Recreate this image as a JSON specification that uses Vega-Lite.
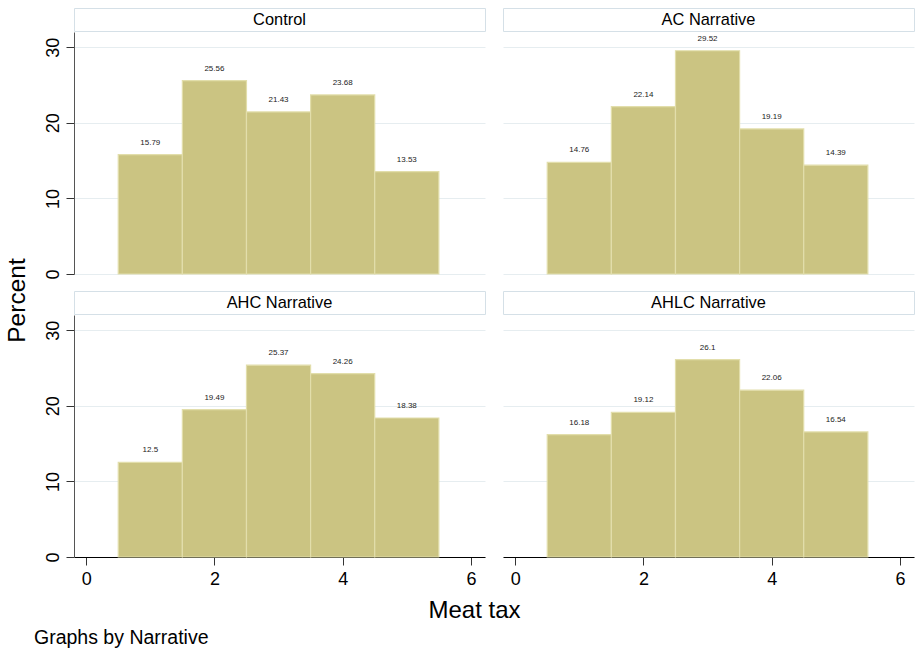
{
  "$schema": "https://vega.github.io/schema/vega-lite/v6.json",
  "background": "white",
  "padding": {"left": 4, "top": 7, "right": 2, "bottom": 2},
  "datasets": {
    "hist": [
      {"Narrative": "Control", "tax": 1, "lo": 0.5, "hi": 1.5, "pct": 15.79},
      {"Narrative": "Control", "tax": 2, "lo": 1.5, "hi": 2.5, "pct": 25.56},
      {"Narrative": "Control", "tax": 3, "lo": 2.5, "hi": 3.5, "pct": 21.43},
      {"Narrative": "Control", "tax": 4, "lo": 3.5, "hi": 4.5, "pct": 23.68},
      {"Narrative": "Control", "tax": 5, "lo": 4.5, "hi": 5.5, "pct": 13.53},
      {"Narrative": "AC Narrative", "tax": 1, "lo": 0.5, "hi": 1.5, "pct": 14.76},
      {"Narrative": "AC Narrative", "tax": 2, "lo": 1.5, "hi": 2.5, "pct": 22.14},
      {"Narrative": "AC Narrative", "tax": 3, "lo": 2.5, "hi": 3.5, "pct": 29.52},
      {"Narrative": "AC Narrative", "tax": 4, "lo": 3.5, "hi": 4.5, "pct": 19.19},
      {"Narrative": "AC Narrative", "tax": 5, "lo": 4.5, "hi": 5.5, "pct": 14.39},
      {"Narrative": "AHC Narrative", "tax": 1, "lo": 0.5, "hi": 1.5, "pct": 12.5},
      {"Narrative": "AHC Narrative", "tax": 2, "lo": 1.5, "hi": 2.5, "pct": 19.49},
      {"Narrative": "AHC Narrative", "tax": 3, "lo": 2.5, "hi": 3.5, "pct": 25.37},
      {"Narrative": "AHC Narrative", "tax": 4, "lo": 3.5, "hi": 4.5, "pct": 24.26},
      {"Narrative": "AHC Narrative", "tax": 5, "lo": 4.5, "hi": 5.5, "pct": 18.38},
      {"Narrative": "AHLC Narrative", "tax": 1, "lo": 0.5, "hi": 1.5, "pct": 16.18},
      {"Narrative": "AHLC Narrative", "tax": 2, "lo": 1.5, "hi": 2.5, "pct": 19.12},
      {"Narrative": "AHLC Narrative", "tax": 3, "lo": 2.5, "hi": 3.5, "pct": 26.1},
      {"Narrative": "AHLC Narrative", "tax": 4, "lo": 3.5, "hi": 4.5, "pct": 22.06},
      {"Narrative": "AHLC Narrative", "tax": 5, "lo": 4.5, "hi": 5.5, "pct": 16.54}
    ],
    "panels": [
      {"Narrative": "Control"},
      {"Narrative": "AC Narrative"},
      {"Narrative": "AHC Narrative"},
      {"Narrative": "AHLC Narrative"}
    ]
  },
  "title": {
    "text": "Graphs by Narrative",
    "orient": "bottom",
    "anchor": "start",
    "fontSize": 19.5,
    "fontWeight": "normal",
    "color": "#000",
    "dx": 30,
    "offset": 7
  },
  "spacing": 15,
  "hconcat": [
    {
      "data": {"name": "hist"},
      "width": 1, "height": 584,
      "mark": {"type": "tick", "opacity": 0},
      "encoding": {
        "y": {"field": "pct", "type": "quantitative", "scale": {"domain": [0, 32], "nice": false},
          "axis": {"labels": false, "ticks": false, "domain": false, "grid": false, "title": "Percent", "titleFontSize": 24.5, "titleAngle": -90, "titleAlign": "center", "titleBaseline": "alphabetic", "titlePadding": 3}}
      }
    },
    {
      "spacing": 10,
      "vconcat": [
        {
          "spacing": 16,
          "hconcat": [
            {
              "spacing": 0,
              "vconcat": [
                {
                  "data": {"name": "panels"},
                  "transform": [{"filter": "datum.Narrative === 'Control'"}],
                  "width": 411, "height": 23,
                  "view": {"stroke": "#d5e0e7", "strokeWidth": 1},
                  "mark": {"type": "text", "fontSize": 16.4, "color": "#000"},
                  "encoding": {"text": {"field": "Narrative", "type": "nominal"}}
                },
                {
                  "data": {"name": "hist"},
                  "transform": [{"filter": "datum.Narrative === 'Control'"}],
                  "width": 411, "height": 242,
                  "layer": [
                    {
                      "mark": {"type": "bar", "orient": "vertical", "fill": "#cbc482", "stroke": "#e2deab", "strokeWidth": 1.2},
                      "encoding": {
                        "x": {"field": "lo", "type": "quantitative", "scale": {"domain": [-0.19, 6.22], "nice": false, "zero": false, "padding": 0}, "axis": null},
                        "x2": {"field": "hi"},
                        "y": {"field": "pct", "type": "quantitative", "scale": {"domain": [0, 32], "nice": false, "padding": 0},
                          "axis": {"values": [0, 10, 20, 30], "grid": true, "gridColor": "#e6edf0", "domain": true, "domainColor": "#555", "ticks": true, "tickSize": 8, "tickColor": "#333", "labelAngle": -90, "labelFontSize": 18, "labelPadding": 4, "title": null}},
                        "y2": {"datum": 0}
                      }
                    },
                    {
                      "mark": {"type": "text", "fontSize": 8, "baseline": "bottom", "dy": -8, "color": "#222"},
                      "encoding": {
                        "x": {"field": "tax", "type": "quantitative"},
                        "y": {"field": "pct", "type": "quantitative"},
                        "text": {"field": "pct", "type": "nominal"}
                      }
                    }
                  ]
                }
              ]
            },
            {
              "spacing": 0,
              "vconcat": [
                {
                  "data": {"name": "panels"},
                  "transform": [{"filter": "datum.Narrative === 'AC Narrative'"}],
                  "width": 411, "height": 23,
                  "view": {"stroke": "#d5e0e7", "strokeWidth": 1},
                  "mark": {"type": "text", "fontSize": 16.4, "color": "#000"},
                  "encoding": {"text": {"field": "Narrative", "type": "nominal"}}
                },
                {
                  "data": {"name": "hist"},
                  "transform": [{"filter": "datum.Narrative === 'AC Narrative'"}],
                  "width": 411, "height": 242,
                  "layer": [
                    {
                      "mark": {"type": "bar", "orient": "vertical", "fill": "#cbc482", "stroke": "#e2deab", "strokeWidth": 1.2},
                      "encoding": {
                        "x": {"field": "lo", "type": "quantitative", "scale": {"domain": [-0.19, 6.22], "nice": false, "zero": false, "padding": 0}, "axis": null},
                        "x2": {"field": "hi"},
                        "y": {"field": "pct", "type": "quantitative", "scale": {"domain": [0, 32], "nice": false, "padding": 0},
                          "axis": {"values": [0, 10, 20, 30], "grid": true, "gridColor": "#e6edf0", "domain": false, "ticks": false, "labels": false, "title": null}},
                        "y2": {"datum": 0}
                      }
                    },
                    {
                      "mark": {"type": "text", "fontSize": 8, "baseline": "bottom", "dy": -8, "color": "#222"},
                      "encoding": {
                        "x": {"field": "tax", "type": "quantitative"},
                        "y": {"field": "pct", "type": "quantitative"},
                        "text": {"field": "pct", "type": "nominal"}
                      }
                    }
                  ]
                }
              ]
            }
          ]
        },
        {
          "spacing": 16,
          "hconcat": [
            {
              "spacing": 0,
              "vconcat": [
                {
                  "data": {"name": "panels"},
                  "transform": [{"filter": "datum.Narrative === 'AHC Narrative'"}],
                  "width": 411, "height": 23,
                  "view": {"stroke": "#d5e0e7", "strokeWidth": 1},
                  "mark": {"type": "text", "fontSize": 16.4, "color": "#000"},
                  "encoding": {"text": {"field": "Narrative", "type": "nominal"}}
                },
                {
                  "data": {"name": "hist"},
                  "transform": [{"filter": "datum.Narrative === 'AHC Narrative'"}],
                  "width": 411, "height": 242,
                  "layer": [
                    {
                      "mark": {"type": "bar", "orient": "vertical", "fill": "#cbc482", "stroke": "#e2deab", "strokeWidth": 1.2},
                      "encoding": {
                        "x": {"field": "lo", "type": "quantitative", "scale": {"domain": [-0.19, 6.22], "nice": false, "zero": false, "padding": 0},
                          "axis": {"values": [0, 2, 4, 6], "format": "d", "grid": false, "domain": true, "domainColor": "#000", "ticks": true, "tickSize": 8, "tickColor": "#333", "labelFontSize": 18, "labelPadding": 5, "title": null}},
                        "x2": {"field": "hi"},
                        "y": {"field": "pct", "type": "quantitative", "scale": {"domain": [0, 32], "nice": false, "padding": 0},
                          "axis": {"values": [0, 10, 20, 30], "grid": true, "gridColor": "#e6edf0", "domain": true, "domainColor": "#555", "ticks": true, "tickSize": 8, "tickColor": "#333", "labelAngle": -90, "labelFontSize": 18, "labelPadding": 4, "title": null}},
                        "y2": {"datum": 0}
                      }
                    },
                    {
                      "mark": {"type": "text", "fontSize": 8, "baseline": "bottom", "dy": -8, "color": "#222"},
                      "encoding": {
                        "x": {"field": "tax", "type": "quantitative"},
                        "y": {"field": "pct", "type": "quantitative"},
                        "text": {"field": "pct", "type": "nominal"}
                      }
                    }
                  ]
                }
              ]
            },
            {
              "spacing": 0,
              "vconcat": [
                {
                  "data": {"name": "panels"},
                  "transform": [{"filter": "datum.Narrative === 'AHLC Narrative'"}],
                  "width": 411, "height": 23,
                  "view": {"stroke": "#d5e0e7", "strokeWidth": 1},
                  "mark": {"type": "text", "fontSize": 16.4, "color": "#000"},
                  "encoding": {"text": {"field": "Narrative", "type": "nominal"}}
                },
                {
                  "data": {"name": "hist"},
                  "transform": [{"filter": "datum.Narrative === 'AHLC Narrative'"}],
                  "width": 411, "height": 242,
                  "layer": [
                    {
                      "mark": {"type": "bar", "orient": "vertical", "fill": "#cbc482", "stroke": "#e2deab", "strokeWidth": 1.2},
                      "encoding": {
                        "x": {"field": "lo", "type": "quantitative", "scale": {"domain": [-0.19, 6.22], "nice": false, "zero": false, "padding": 0},
                          "axis": {"values": [0, 2, 4, 6], "format": "d", "grid": false, "domain": true, "domainColor": "#000", "ticks": true, "tickSize": 8, "tickColor": "#333", "labelFontSize": 18, "labelPadding": 5, "title": null}},
                        "x2": {"field": "hi"},
                        "y": {"field": "pct", "type": "quantitative", "scale": {"domain": [0, 32], "nice": false, "padding": 0},
                          "axis": {"values": [0, 10, 20, 30], "grid": true, "gridColor": "#e6edf0", "domain": false, "ticks": false, "labels": false, "title": null}},
                        "y2": {"datum": 0}
                      }
                    },
                    {
                      "mark": {"type": "text", "fontSize": 8, "baseline": "bottom", "dy": -8, "color": "#222"},
                      "encoding": {
                        "x": {"field": "tax", "type": "quantitative"},
                        "y": {"field": "pct", "type": "quantitative"},
                        "text": {"field": "pct", "type": "nominal"}
                      }
                    }
                  ]
                }
              ]
            }
          ]
        },
        {
          "data": {"name": "hist"},
          "width": 800, "height": 1,
          "mark": {"type": "tick", "opacity": 0},
          "encoding": {
            "x": {"field": "tax", "type": "quantitative",
              "axis": {"labels": false, "ticks": false, "domain": false, "grid": false, "title": "Meat tax", "titleFontSize": 24, "titleBaseline": "alphabetic", "titlePadding": 17}}
          }
        }
      ]
    }
  ],
  "config": {
    "font": "Liberation Sans",
    "view": {"stroke": null},
    "axis": {"labelFont": "Liberation Sans", "titleFont": "Liberation Sans", "labelColor": "#000", "titleColor": "#000", "titleFontWeight": "normal"},
    "title": {"font": "Liberation Sans"}
  }
}
